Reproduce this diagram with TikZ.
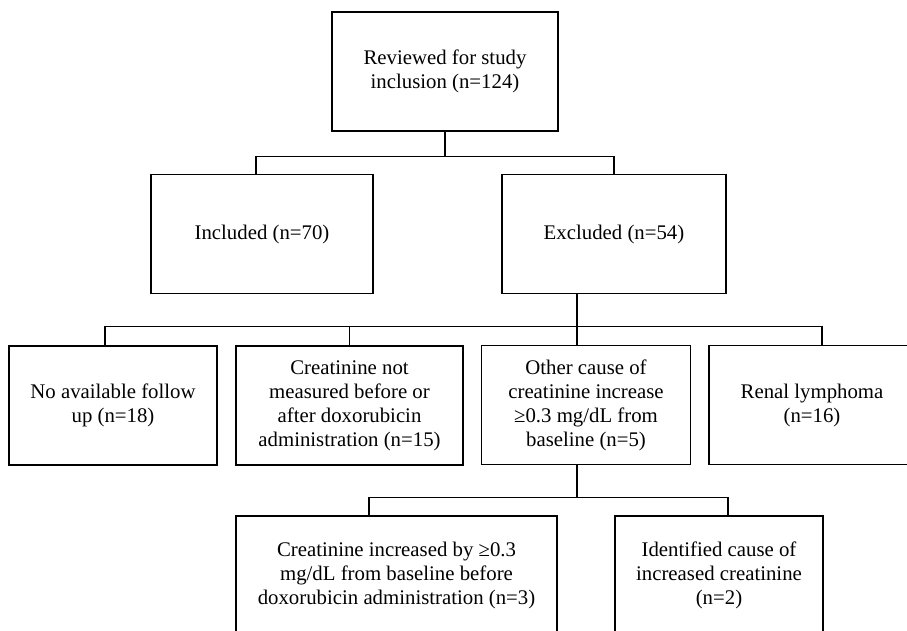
\documentclass[tikz,border=0pt]{standalone}
\usepackage{fontspec}
\setmainfont{Liberation Serif}
\tikzset{
  flowbox/.style={draw, line width=1.2pt, rectangle, align=center, inner sep=2pt,
    font=\fontsize{20.8}{24}\selectfont, minimum height=119pt},
  link/.style={line width=1.2pt}
}
\begin{document}
\begin{tikzpicture}[x=1pt, y=-1pt, line join=miter]
				% Khung ảnh
				\path[use as bounding box, clip] (0,0) rectangle (907,631);
				\fill[white] (0,0) rectangle (907,631);
				
				% Hàng 1 và hàng 2
				\node[flowbox, minimum width=226pt] (review) at (445,71.5) {Reviewed for study\\inclusion (n=124)};
				\node[flowbox, minimum width=222pt] (incl) at (262,234) {Included (n=70)};
				\node[flowbox, minimum width=224pt] (excl) at (614,234) {Excluded (n=54)};
				
				% Hàng 3
				\node[flowbox, minimum width=208pt] (nofu) at (113,405.5) {No available follow\\up (n=18)};
				\node[flowbox, minimum width=227pt] (notmeas) at (349.5,405.5) {Creatinine not\\measured before or\\after doxorubicin\\administration (n=15)};
				\node[flowbox, minimum width=209pt] (other) at (586,405) {Other cause of\\creatinine increase\\≥0.3 mg/dL from\\baseline (n=5)};
				\node[flowbox, minimum width=206pt] (renal) at (812,405) {Renal lymphoma\\(n=16)};
				
				% Hàng 4
				\node[flowbox, minimum width=321pt] (prior) at (396.5,575.5) {Creatinine increased by ≥0.3\\mg/dL from baseline before\\doxorubicin administration (n=3)};
				\node[flowbox, minimum width=208pt] (ident) at (719,575.5) {Identified cause of\\increased creatinine\\(n=2)};
				
				% Các đường nối
				\draw[link] (review.south) -- ++(0,25) coordinate (j1);
				\draw[link] ([xshift=-6pt]incl.north) |- (j1) -| (excl.north);
				\draw[link] ([xshift=-37pt]excl.south) -- ([xshift=-9pt]other.north);
				\path ([xshift=-37pt]excl.south) ++(0,32) coordinate (j2);
				\draw[link] ([xshift=-8pt]nofu.north) |- (j2) -| ([xshift=10pt]renal.north);
				\draw[link] (notmeas.north) -- (notmeas.north |- j2);
				\draw[link] ([xshift=-9pt]other.south) -- ++(0,32) coordinate (j3);
				\draw[link] ([xshift=-27.5pt]prior.north) |- (j3) -| ([xshift=9pt]ident.north);
			\end{tikzpicture}
\end{document}
